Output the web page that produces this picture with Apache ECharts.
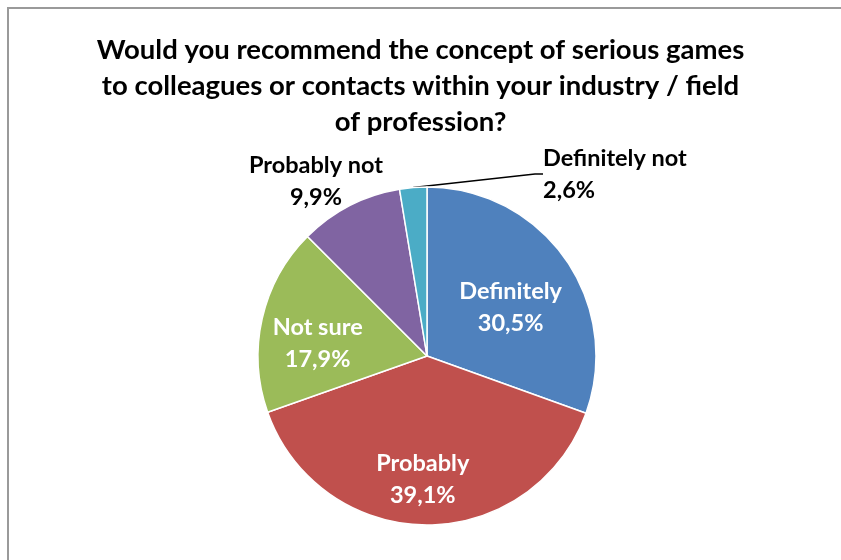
<!DOCTYPE html>
<html>
<head>
<meta charset="utf-8">
<script src="https://cdn.jsdelivr.net/npm/echarts@6/dist/echarts.min.js"></script>
<style>
  html, body { margin: 0; padding: 0; background: #fff; }
  #chart { width: 841px; height: 560px; }
</style>
</head>
<body>
<div id="chart"></div>
<script>
// Survey answers and their shares (percent)
const categories = ['Definitely', 'Probably', 'Not sure', 'Probably not', 'Definitely not'];
const shares = [30.5, 39.1, 17.9, 9.9, 2.6];
const colors = ['#4F81BD', '#C0504D', '#9BBB59', '#8064A2', '#4BACC6'];
const titleText = 'Would you recommend the concept of serious games\nto colleagues or contacts within your industry / field\nof profession?';

const FONT = 'Lato';
const insideIdx = [0, 1, 2];

// Nudges for each inside label relative to where ECharts places it
const labelShift = [
  { dx: 12, dy: 2 },
  { dx: -4, dy: 36 },
  { dx: -24, dy: 7 },
  null,
  null
];

const data = categories.map((name, i) => {
  const inside = insideIdx.includes(i);
  return {
    name,
    value: shares[i],
    itemStyle: { color: colors[i] },
    label: {
      position: inside ? 'inside' : 'outside',
      color: inside ? '#ffffff' : '#000000'
    },
    labelLine: { show: i === 4 }
  };
});

const chart = echarts.init(document.getElementById('chart'), null, { renderer: 'canvas' });
chart.setOption({
  animation: false,
  title: {
    text: titleText,
    left: 'center',
    top: 27,
    textStyle: {
      fontFamily: FONT,
      fontWeight: 'bold',
      fontSize: 27.5,
      lineHeight: 36,
      color: '#000'
    }
  },
  graphic: [{
    type: 'rect',
    shape: { x: 8, y: 8, width: 850, height: 570 },
    style: { fill: 'none', stroke: '#9a9a9a', lineWidth: 2 },
    silent: true
  }],
  series: [{
    type: 'pie',
    center: [427, 356],
    radius: 169,
    startAngle: 90,
    clockwise: true,
    data,
    itemStyle: { borderColor: '#ffffff', borderWidth: 1.5 },
    label: {
      show: true,
      fontFamily: FONT,
      fontWeight: 'bold',
      fontSize: 23.5,
      lineHeight: 32,
      formatter: p => p.name + '\n' + p.value.toFixed(1).replace('.', ',') + '%'
    },
    labelLine: {
      show: true,
      length: 20,
      length2: 8,
      lineStyle: { color: '#000', width: 1.5 }
    },
    labelLayout: function (params) {
      const i = params.dataIndex;
      if (i === 3) {
        return { x: 316, y: 181, align: 'center', verticalAlign: 'middle' };
      }
      if (i === 4) {
        return { x: 543, y: 174, align: 'left', verticalAlign: 'middle' };
      }
      return labelShift[i] || {};
    }
  }]
});
</script>
</body>
</html>
